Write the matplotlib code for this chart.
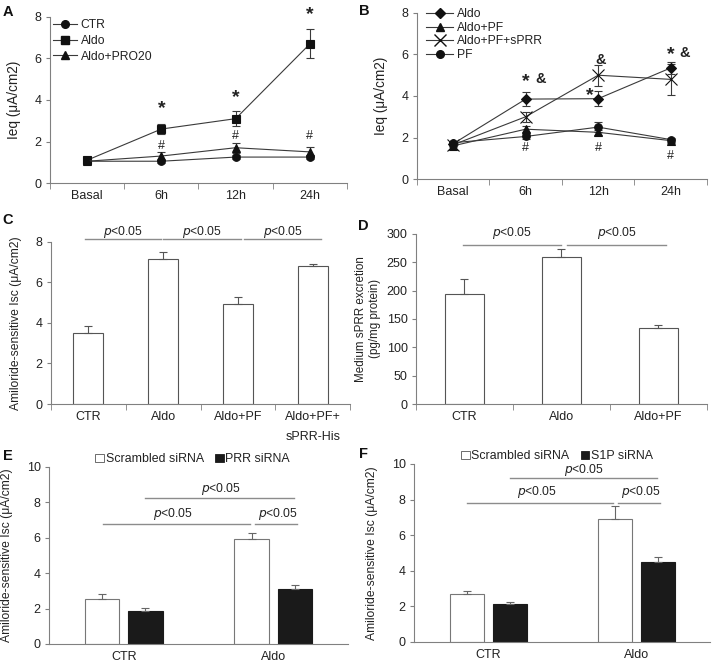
import matplotlib
matplotlib.use("Agg")
import matplotlib.pyplot as plt
import numpy as np
from matplotlib.patches import Patch
from matplotlib.lines import Line2D

plt.rcParams['font.family'] = ['Liberation Sans', 'DejaVu Sans']
plt.rcParams['font.size'] = 9
plt.rcParams['text.color'] = '#222222'
plt.rcParams['axes.edgecolor'] = '#808080'
plt.rcParams['xtick.color'] = '#808080'
plt.rcParams['ytick.color'] = '#808080'
plt.rcParams['xtick.labelcolor'] = '#222222'
plt.rcParams['ytick.labelcolor'] = '#222222'
plt.rcParams['axes.labelcolor'] = '#222222'
plt.rcParams['axes.labelsize'] = 9.8

# ---- panel A: time course
times = ['Basal', '6h', '12h', '24h']
a_ctr = [1.05, 1.05, 1.25, 1.25]
a_ctr_err = [0.05, 0.08, 0.08, 0.08]
a_aldo = [1.1, 2.6, 3.1, 6.7]
a_aldo_err = [0.05, 0.25, 0.35, 0.7]
a_pro20 = [1.05, 1.3, 1.7, 1.5]
a_pro20_err = [0.05, 0.2, 0.25, 0.25]

# ---- panel B: time course
b_aldo = [1.7, 3.85, 3.87, 5.35]
b_aldo_err = [0.1, 0.35, 0.35, 0.3]
b_aldo_pf = [1.6, 2.4, 2.25, 1.85]
b_aldo_pf_err = [0.05, 0.15, 0.12, 0.1]
b_sprr = [1.65, 3.0, 5.0, 4.8]
b_sprr_err = [0.05, 0.25, 0.5, 0.75]
b_pf = [1.75, 2.05, 2.5, 1.9]
b_pf_err = [0.05, 0.1, 0.25, 0.1]

# ---- panel C
c_cats = ['CTR', 'Aldo', 'Aldo+PF', 'Aldo+PF+\nsPRR-His']
c_vals = [3.5, 7.15, 4.95, 6.8]
c_err = [0.37, 0.37, 0.33, 0.12]

# ---- panel D
d_cats = ['CTR', 'Aldo', 'Aldo+PF']
d_vals = [194, 260, 134]
d_err = [26, 13, 6]

# ---- panels E, F
groups = ['CTR', 'Aldo']
e_scr = [2.55, 5.93]
e_scr_err = [0.25, 0.32]
e_prr = [1.88, 3.1]
e_prr_err = [0.15, 0.24]
f_scr = [2.72, 6.89]
f_scr_err = [0.13, 0.75]
f_s1p = [2.12, 4.5]
f_s1p_err = [0.13, 0.28]

LINE = '#3a3a3a'
GRAY = '#8c8c8c'
PFONT = 8.7
ISC_LABEL = 'Amiloride-sensitive Isc (\u03bcA/cm2)'

fig = plt.figure(figsize=(7.14, 6.67), dpi=100)
axA = fig.add_axes([0.070, 0.7256, 0.416, 0.249])
axB = fig.add_axes([0.584, 0.7316, 0.406, 0.249])
axC = fig.add_axes([0.0714, 0.3943, 0.419, 0.243])
axD = fig.add_axes([0.5826, 0.3943, 0.4076, 0.2549])
axE = fig.add_axes([0.0686, 0.0345, 0.419, 0.2654])
axF = fig.add_axes([0.580, 0.0375, 0.4146, 0.2669])


def style(ax, ncat, boundary_ticks=True):
    for s in ['top', 'right']:
        ax.spines[s].set_visible(False)
    ax.set_xlim(-0.5, ncat - 0.5)
    ax.set_xticks(range(ncat))
    ax.tick_params(axis='x', length=0, pad=5)
    if boundary_ticks:
        ax.set_xticks(np.arange(-0.5, ncat), minor=True)
        ax.tick_params(axis='x', which='minor', length=4, direction='out')
    ax.tick_params(axis='y', length=3, direction='out', pad=3)


def line_series(ax, y, err, marker, ms=5.5, mew=0.8):
    x = np.arange(len(y))
    ax.errorbar(x, y, yerr=err, color=LINE, lw=0.8, marker=marker, ms=ms,
                mfc='#111111', mec='#111111', mew=mew, capsize=3,
                elinewidth=0.8, capthick=0.8, ecolor=LINE)


# panel A
line_series(axA, a_ctr, a_ctr_err, 'o')
line_series(axA, a_aldo, a_aldo_err, 's')
line_series(axA, a_pro20, a_pro20_err, '^')
style(axA, 4)
axA.set_xticklabels(times)
axA.set_ylim(0, 8)
axA.set_yticks([0, 2, 4, 6, 8])
axA.set_ylabel('Ieq (\u03bcA/cm2)', labelpad=10)
for x, y in [(1, 3.6), (2, 4.1), (3, 8.1)]:
    axA.text(x, y, '*', ha='center', va='center', fontsize=14, fontweight='bold')
for x, y in [(1, 1.8), (2, 2.25), (3, 2.25)]:
    axA.text(x, y, '#', ha='center', va='center', fontsize=9)
hA = [Line2D([], [], color=LINE, lw=0.8, marker=m, ms=5.5, mfc='#111111', mec='#111111')
      for m in ['o', 's', '^']]
axA.legend(hA, ['CTR', 'Aldo', 'Aldo+PRO20'], loc='upper left', bbox_to_anchor=(0.01, 0.986),
           frameon=False, handlelength=2.0, handletextpad=0.3, labelspacing=0.3,
           fontsize=8.7, borderaxespad=0, borderpad=0)

# panel B
line_series(axB, b_aldo, b_aldo_err, 'D', ms=5)
line_series(axB, b_aldo_pf, b_aldo_pf_err, '^')
line_series(axB, b_sprr, b_sprr_err, 'x', ms=8, mew=0.8)
line_series(axB, b_pf, b_pf_err, 'o')
style(axB, 4)
axB.set_xticklabels(times)
axB.set_ylim(0, 8)
axB.set_yticks([0, 2, 4, 6, 8])
axB.set_ylabel('Ieq (\u03bcA/cm2)', labelpad=10)
for x, y in [(1, 4.7), (1.89, 4.0), (3, 6.0)]:
    axB.text(x, y, '*', ha='center', va='center', fontsize=14, fontweight='bold')
for x, y in [(1.2, 4.8), (2.03, 5.75), (3.2, 6.05)]:
    axB.text(x, y, '&', ha='center', va='center', fontsize=10.5, fontweight='bold')
for x, y in [(1, 1.5), (2, 1.5), (3, 1.1)]:
    axB.text(x, y, '#', ha='center', va='center', fontsize=9)
hB = [Line2D([], [], color=LINE, lw=0.8, marker=m, ms=s, mfc='#111111', mec='#111111')
      for m, s in [('D', 5), ('^', 5.5), ('x', 8), ('o', 5.5)]]
axB.legend(hB, ['Aldo', 'Aldo+PF', 'Aldo+PF+sPRR', 'PF'], loc='upper left',
           bbox_to_anchor=(0.03, 1.027), frameon=False, handlelength=2.3, handletextpad=0.3,
           labelspacing=0.12, fontsize=8.7, borderaxespad=0, borderpad=0)

# panel C
xc = np.arange(len(c_cats))
axC.bar(xc, c_vals, width=0.4, color='white', edgecolor='#555555', lw=0.8)
axC.errorbar(xc, c_vals, yerr=[np.zeros(len(c_err)), c_err], fmt='none', ecolor='#555555',
             elinewidth=0.8, capsize=3, capthick=0.8)
style(axC, 4)
axC.set_xticklabels(c_cats, linespacing=1.9, va='top')
axC.set_ylim(0, 8)
axC.set_yticks([0, 2, 4, 6, 8])
axC.set_ylabel(ISC_LABEL, labelpad=10, fontsize=8.7)
for x0, x1 in [(-0.05, 0.97), (1.0, 2.04), (2.08, 3.11)]:
    axC.plot([x0, x1], [8.13, 8.13], color=GRAY, lw=1, clip_on=False)
    axC.text((x0 + x1) / 2, 8.5, r'$p$<0.05', ha='center', va='center', fontsize=PFONT)

# panel D
xd = np.arange(len(d_cats))
axD.bar(xd, d_vals, width=0.4, color='white', edgecolor='#555555', lw=0.8)
axD.errorbar(xd, d_vals, yerr=[np.zeros(len(d_err)), d_err], fmt='none', ecolor='#555555',
             elinewidth=0.8, capsize=3, capthick=0.8)
style(axD, 3)
axD.set_xticklabels(d_cats)
axD.set_ylim(0, 300)
axD.set_yticks(range(0, 301, 50))
axD.set_ylabel('Medium sPRR excretion\n(pg/mg protein)', labelpad=4, fontsize=8.4)
for x0, x1 in [(-0.02, 1.0), (1.06, 2.08)]:
    axD.plot([x0, x1], [280, 280], color=GRAY, lw=1, clip_on=False)
    axD.text((x0 + x1) / 2, 302, r'$p$<0.05', ha='center', va='center', fontsize=PFONT)


def grouped(ax, a, a_err, b, b_err, labels, ptop, plow, ytop, ylow, legx):
    x = np.arange(len(groups))
    off = 0.145
    w = 0.23
    ax.bar(x - off, a, width=w, color='white', edgecolor='#777777', lw=0.8)
    ax.bar(x + off, b, width=w, color='#1a1a1a', edgecolor='#1a1a1a', lw=0.8)
    ax.errorbar(x - off, a, yerr=[np.zeros(len(a)), a_err], fmt='none', ecolor='#666666',
                elinewidth=0.8, capsize=3, capthick=0.8)
    ax.errorbar(x + off, b, yerr=[np.zeros(len(b)), b_err], fmt='none', ecolor='#666666',
                elinewidth=0.8, capsize=3, capthick=0.8)
    style(ax, 2, boundary_ticks=False)
    ax.set_xticklabels(groups)
    ax.set_ylim(0, 10)
    ax.set_yticks(range(0, 11, 2))
    ax.set_ylabel(ISC_LABEL, labelpad=10, fontsize=8.7)
    # significance lines
    ax.plot([0.145, 1.14], [ptop, ptop], color=GRAY, lw=1)
    ax.text(0.65, ytop, r'$p$<0.05', ha='center', va='center', fontsize=PFONT)
    ax.plot([-0.14, 0.845], [plow, plow], color=GRAY, lw=1)
    ax.text(0.33, ylow, r'$p$<0.05', ha='center', va='center', fontsize=PFONT)
    ax.plot([0.88, 1.16], [plow, plow], color=GRAY, lw=1)
    ax.text(1.03, ylow, r'$p$<0.05', ha='center', va='center', fontsize=PFONT)
    hs = [Patch(facecolor='white', edgecolor='#555555', lw=0.6),
          Patch(facecolor='#1a1a1a', edgecolor='#1a1a1a', lw=0.6)]
    ax.legend(hs, labels, loc='lower center', bbox_to_anchor=(legx, 1.01), ncol=2,
              frameon=False, handlelength=0.7, handleheight=0.7, handletextpad=0.15,
              columnspacing=0.9, fontsize=8.9, borderaxespad=0, borderpad=0)


grouped(axE, e_scr, e_scr_err, e_prr, e_prr_err, ['Scrambled siRNA', 'PRR siRNA'],
        8.24, 6.77, 8.74, 7.37, 0.48)
grouped(axF, f_scr, f_scr_err, f_s1p, f_s1p_err, ['Scrambled siRNA', 'S1P siRNA'],
        9.19, 7.79, 9.68, 8.45, 0.483)

# panel letters
for x, y, t in [(0.004, 0.992, 'A'), (0.503, 0.994, 'B'), (0.004, 0.680, 'C'),
                (0.502, 0.672, 'D'), (0.004, 0.327, 'E'), (0.503, 0.330, 'F')]:
    fig.text(x, y, t, fontsize=10.5, fontweight='bold', va='top', ha='left', color='#111111')

fig.savefig('out.png', dpi=100)
